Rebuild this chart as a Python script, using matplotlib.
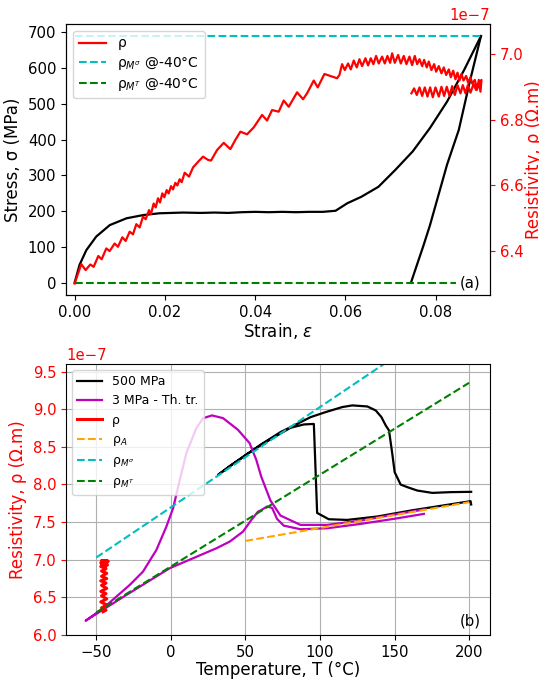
import matplotlib
matplotlib.use("Agg")
import matplotlib.pyplot as plt
from matplotlib.ticker import MultipleLocator
import numpy as np

# ---------------- (a) stress-strain + resistivity ----------------
strain_load = [0, 0.0011, 0.0026, 0.0048, 0.0078, 0.0115, 0.0152, 0.0188, 0.024, 0.028,
               0.031, 0.034, 0.037, 0.040, 0.043, 0.046, 0.049, 0.052, 0.055, 0.0578,
               0.0604, 0.0635, 0.0673, 0.0711, 0.0749, 0.0787, 0.0825, 0.0863, 0.0900]
stress_load = [0, 50, 91, 129, 161, 180, 189, 194, 196, 195,
               196, 195, 197, 198, 197, 198, 197, 198, 198, 201,
               222, 240, 268, 316, 367, 432, 506, 595, 689]
strain_unload = [0.0900, 0.0875, 0.0851, 0.0825, 0.0787, 0.0772, 0.0757, 0.0745]
stress_unload = [689, 560, 427, 330, 160, 101, 45, 0]

rho_strain = [0.0000, 0.00148, 0.00244, 0.00348, 0.00422, 0.00525, 0.00599, 0.00702, 0.00776, 0.00887,
              0.00961, 0.01057, 0.01131, 0.01220, 0.01293, 0.01367, 0.01441, 0.01515, 0.01574, 0.01648,
              0.01692, 0.01751, 0.01796, 0.01847, 0.01892, 0.01943, 0.01988, 0.02039, 0.02084, 0.02136,
              0.02180, 0.02231, 0.02276, 0.02327, 0.02372, 0.02438, 0.02534, 0.02623, 0.02734, 0.02845,
              0.02956, 0.03022, 0.03155, 0.03303, 0.03450, 0.03561, 0.03672, 0.03820, 0.03967, 0.04152,
              0.04263, 0.04374, 0.04521, 0.04632, 0.04743, 0.04928, 0.05061, 0.05149, 0.05297, 0.05386,
              0.05533, 0.05666, 0.05814, 0.05866, 0.05925, 0.05984, 0.06058, 0.06117, 0.06183, 0.06250,
              0.06309, 0.06368, 0.06442, 0.06501, 0.06560, 0.06619, 0.06678, 0.06737, 0.06811, 0.06870,
              0.06929, 0.06989, 0.07033, 0.07092, 0.07166, 0.07225, 0.07291, 0.07350, 0.07417, 0.07476,
              0.07535, 0.07587, 0.07639, 0.07698, 0.07742, 0.07801, 0.07845, 0.07904, 0.07964, 0.08008,
              0.08067, 0.08126, 0.08178, 0.08230, 0.08289, 0.08333, 0.08385, 0.08436, 0.08481, 0.08525,
              0.08569, 0.08614, 0.08673, 0.08717, 0.08769, 0.08806, 0.08865, 0.08917, 0.08953, 0.08990,
              0.09012,
              # unloading branch
              0.08953, 0.08894, 0.08835, 0.08769, 0.08710, 0.08658, 0.08599, 0.08547, 0.08481, 0.08422,
              0.08363, 0.08303, 0.08244, 0.08185, 0.08126, 0.08067, 0.07993, 0.07934, 0.07875, 0.07816,
              0.07757, 0.07698, 0.07639, 0.07579, 0.07520, 0.07461]
rho_vals = [6.301, 6.360, 6.342, 6.359, 6.352, 6.385, 6.375, 6.408, 6.400, 6.423,
            6.413, 6.442, 6.431, 6.459, 6.451, 6.482, 6.472, 6.505, 6.497, 6.525,
            6.513, 6.545, 6.533, 6.561, 6.548, 6.576, 6.564, 6.586, 6.576, 6.598,
            6.588, 6.608, 6.600, 6.619, 6.610, 6.639, 6.627, 6.655, 6.672, 6.688,
            6.678, 6.676, 6.708, 6.730, 6.711, 6.739, 6.764, 6.756, 6.777, 6.815,
            6.798, 6.830, 6.825, 6.859, 6.840, 6.884, 6.863, 6.881, 6.920, 6.899,
            6.940, 6.934, 6.927, 6.937, 6.970, 6.952, 6.972, 6.954, 6.981, 6.960,
            6.985, 6.964, 6.988, 6.966, 6.988, 6.970, 6.995, 6.972, 6.993, 6.972,
            6.995, 6.974, 7.003, 6.974, 6.998, 6.972, 6.995, 6.970, 6.993, 6.967,
            6.995, 6.970, 6.985, 6.964, 6.983, 6.960, 6.978, 6.952, 6.970, 6.947,
            6.964, 6.942, 6.960, 6.937, 6.954, 6.930, 6.950, 6.924, 6.944, 6.920,
            6.940, 6.920, 6.934, 6.913, 6.930, 6.911, 6.922, 6.893, 6.922, 6.886,
            6.922,
            6.911, 6.891, 6.909, 6.883, 6.906, 6.881, 6.906, 6.881, 6.906, 6.876,
            6.903, 6.873, 6.901, 6.873, 6.901, 6.871, 6.899, 6.869, 6.899, 6.871,
            6.899, 6.873, 6.899, 6.876, 6.896, 6.881]

msig_strain = [0.0, 0.0900]
msig_rho = [7.056, 7.056]
mt_strain = [0.0, 0.0845]
mt_rho = [6.303, 6.303]

# ---------------- (b) resistivity vs temperature ----------------
T_500 = [201.4, 187.6, 175.3, 165.3, 158.6, 154.1, 150.1, 148.5, 146.3, 144.1,
         141.2, 137.4, 131.8, 121.7, 115.0, 103.8, 93.8, 82.6, 73.5, 60.1,
         50.7, 40.0, 31.7, 40.0, 50.7, 60.1, 71.3, 80.3, 89.2, 95.9,
         98.1, 105.9, 118.2, 138.4, 160.7, 201.0, 201.4]
rho_500 = [7.902, 7.898, 7.888, 7.919, 7.964, 7.999, 8.163, 8.407, 8.717, 8.784,
           8.895, 8.983, 9.036, 9.050, 9.028, 8.961, 8.895, 8.784, 8.695, 8.527,
           8.394, 8.25, 8.128, 8.25, 8.40, 8.52, 8.651, 8.753, 8.797, 8.804,
           7.622, 7.538, 7.529, 7.574, 7.653, 7.778, 7.734]

T_3 = [169.7, 149.6, 127.2, 104.8, 86.9, 75.7, 71.2, 67.9, 64.5, 60.1,
       58.5, 54.0, 48.4, 39.5, 30.5, 14.9, -0.8, -30.0, -57.2,
       -45.5, -27.6, -18.7, -9.7, -3.0, 1.5, 6.0, 10.4, 17.1, 21.6,
       27.6, 35.0, 45.0, 52.8, 57.3, 60.6, 66.8, 73.5, 86.9, 104.8,
       127.2, 149.6, 169.7]
rho_3 = [7.609, 7.543, 7.476, 7.418, 7.405, 7.453, 7.543, 7.689, 7.707, 7.653,
         7.640, 7.529, 7.374, 7.241, 7.152, 7.020, 6.887, 6.53, 6.19,
         6.355, 6.665, 6.842, 7.130, 7.440, 7.684, 8.061, 8.416, 8.748, 8.880,
         8.917, 8.881, 8.726, 8.549, 8.327, 8.105, 7.786, 7.587, 7.463, 7.463,
         7.520, 7.600, 7.667]

T_red = [-45.5, -43.5, -46.5, -43.0, -47.0, -43.0, -46.5, -43.5, -47.0, -43.0,
         -46.5, -43.5, -47.0, -43.0, -46.5, -43.0, -46.5, -43.5, -47.0, -42.5,
         -47.0, -42.5, -46.5, -42.0, -45.0, -43.0, -46.5, -44.0]
rho_red_b = [6.31, 6.33, 6.36, 6.40, 6.44, 6.48, 6.52, 6.55, 6.58, 6.62,
             6.66, 6.69, 6.72, 6.75, 6.78, 6.82, 6.85, 6.88, 6.91, 6.93,
             6.96, 6.98, 6.99, 6.98, 6.99, 6.95, 6.93, 6.90]

T_A = [50, 200]
rho_A = [7.25, 7.765]
T_Msig = [-50, 200]
rho_Msig = [7.03, 10.36]
T_MT = [-50, 200]
rho_MT = [6.30, 9.35]

S = 1e-7
TICK = 10.7
LAB = 12

fig = plt.figure(figsize=(5.39, 6.81), dpi=100)
ax1 = fig.add_axes([0.1225, 0.5668, 0.7865, 0.398])
ax1.plot(strain_load, stress_load, color='k', lw=1.6)
ax1.plot(strain_unload, stress_unload, color='k', lw=1.6)
ax1.set_xlim(-0.0019, 0.0920)
ax1.set_ylim(-34.4, 723)
ax1.set_xlabel('Strain, $\\varepsilon$', fontsize=LAB, labelpad=1)
ax1.set_ylabel('Stress, σ (MPa)', fontsize=LAB)
ax1.tick_params(labelsize=TICK)
ax1.set_xticks([0.0, 0.02, 0.04, 0.06, 0.08])
ax1.set_yticks([0, 100, 200, 300, 400, 500, 600, 700])

ax1r = ax1.twinx()
ax1r.plot(rho_strain, np.array(rho_vals) * S, color='red', lw=1.6, label='ρ')
ax1r.plot(msig_strain, np.array(msig_rho) * S, color='c', ls='--', lw=1.5,
          label='ρ$_{M^{σ}}$ @-40°C')
ax1r.plot(mt_strain, np.array(mt_rho) * S, color='g', ls='--', lw=1.5,
          label='ρ$_{M^{T}}$ @-40°C')
ax1r.set_ylim(6.266e-7, 7.0925e-7)
ax1r.yaxis.set_major_locator(MultipleLocator(0.2e-7))
ax1r.set_ylabel('Resistivity, ρ (Ω.m)', color='red', fontsize=LAB, labelpad=1)
ax1r.tick_params(axis='y', colors='red', labelsize=TICK)
ax1r.yaxis.get_offset_text().set_color('red')
ax1r.yaxis.get_offset_text().set_fontsize(TICK)
ax1r.legend(loc='upper left', fontsize=10, labelspacing=0.3)
ax1.text(0.953, 0.045, '(a)', transform=ax1.transAxes, ha='center', va='center',
         fontsize=TICK)

ax2 = fig.add_axes([0.1225, 0.0675, 0.7865, 0.398])
ax2.plot(T_500, np.array(rho_500) * S, color='k', lw=1.6, label='500 MPa')
ax2.plot(T_3, np.array(rho_3) * S, color='m', lw=1.6, label='3 MPa - Th. tr.')
ax2.plot(T_red, np.array(rho_red_b) * S, color='red', lw=2.2, label='ρ')
ax2.plot(T_A, np.array(rho_A) * S, color='orange', ls='--', lw=1.5, label='ρ$_A$')
ax2.plot(T_Msig, np.array(rho_Msig) * S, color='c', ls='--', lw=1.5, label='ρ$_{M^{σ}}$')
ax2.plot(T_MT, np.array(rho_MT) * S, color='g', ls='--', lw=1.5, label='ρ$_{M^{T}}$')
ax2.set_xlim(-70.3, 214)
ax2.set_ylim(6.0e-7, 9.6e-7)
ax2.grid(True)
ax2.set_xlabel('Temperature, T (°C)', fontsize=LAB, labelpad=1)
ax2.set_ylabel('Resistivity, ρ (Ω.m)', color='red', fontsize=LAB)
ax2.tick_params(labelsize=TICK)
ax2.tick_params(axis='y', colors='red')
ax2.yaxis.get_offset_text().set_color('red')
ax2.yaxis.get_offset_text().set_fontsize(TICK)
ax2.legend(loc='upper left', fontsize=9)
ax2.text(0.953, 0.052, '(b)', transform=ax2.transAxes, ha='center', va='center',
         fontsize=TICK)

fig.savefig('out.png', dpi=100)
